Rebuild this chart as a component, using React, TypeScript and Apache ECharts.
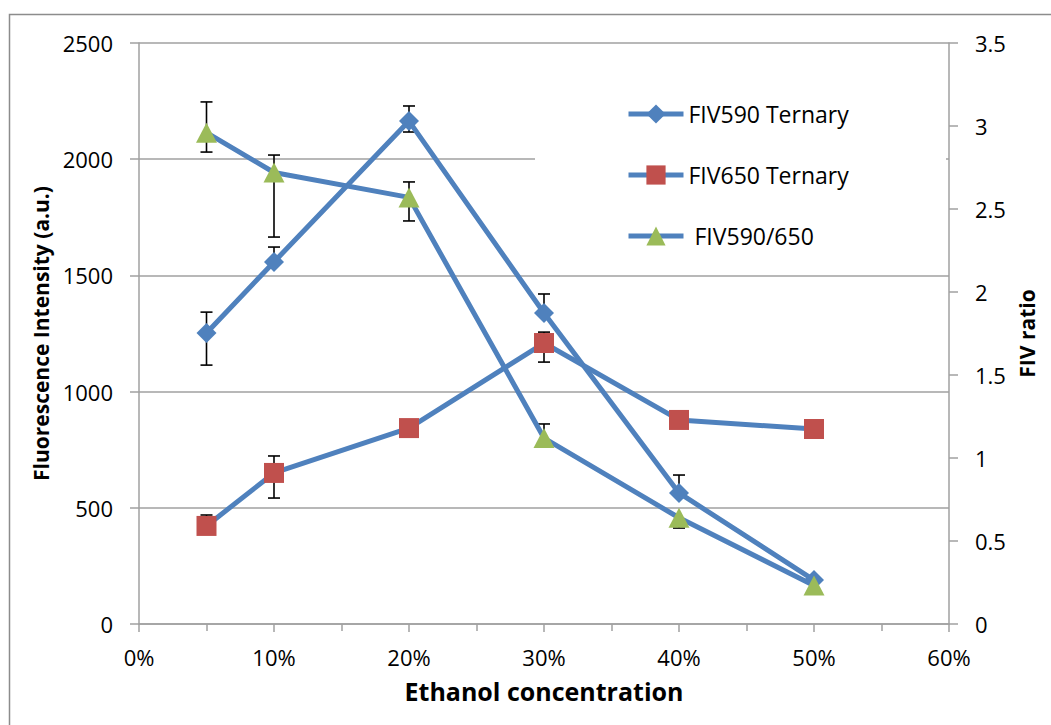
import React, { useEffect, useRef } from "react";
import * as echarts from "echarts";

const xValues = [0.05, 0.1, 0.2, 0.3, 0.4, 0.5];

const fiv590 = [1252, 1558, 2164, 1338, 564, 189];
const fiv590Low = [1114, 1558, 2117, 1338, 564, 189];
const fiv590High = [1342, 1622, 2229, 1420, 641, 189];

const fiv650 = [422, 650, 843, 1209, 878, 839];
const fiv650Low = [422, 542, 843, 1127, 878, 839];
const fiv650High = [469, 723, 843, 1256, 878, 839];

const ratio = [2.96, 2.72, 2.57, 1.12, 0.64, 0.232];
const ratioLow = [2.843, 2.331, 2.428, 1.12, 0.578, 0.232];
const ratioHigh = [3.145, 2.825, 2.663, 1.205, 0.64, 0.232];

const names = ["FIV590 Ternary", "FIV650 Ternary", " FIV590/650"];

const FONT = "Open Sans";
const GRID = "#a0a0a0";
const BLUE = "#4F81BD";

function errRows(v: number[], lo: number[], hi: number[]) {
  return xValues.map((x, i) => [x, v[i], lo[i], hi[i]]);
}

function errorSeries(v: number[], lo: number[], hi: number[], yAxisIndex: number) {
  return {
    type: "custom",
    yAxisIndex,
    z: 1,
    silent: true,
    encode: { x: 0, y: 1 },
    data: errRows(v, lo, hi),
    renderItem: (params: any, api: any) => {
      const x = api.value(0);
      const val = api.value(1);
      const l = api.value(2);
      const h = api.value(3);
      const pl = api.coord([x, l]);
      const ph = api.coord([x, h]);
      const st = { stroke: "#000", lineWidth: 1.6 };
      const children: any[] = [];
      if (h === l) return { type: "group", children };
      children.push({ type: "line", shape: { x1: pl[0], y1: pl[1], x2: ph[0], y2: ph[1] }, style: st });
      const cw = 6;
      if (l < val) children.push({ type: "line", shape: { x1: pl[0] - cw, y1: pl[1], x2: pl[0] + cw, y2: pl[1] }, style: st });
      if (h > val) children.push({ type: "line", shape: { x1: ph[0] - cw, y1: ph[1], x2: ph[0] + cw, y2: ph[1] }, style: st });
      return { type: "group", children };
    },
  };
}

export default function App() {
  const ref = useRef<HTMLDivElement>(null);
  useEffect(() => {
    document.body.style.margin = "0";
    const chart = echarts.init(ref.current!, null, { renderer: "svg" });
    const axisLine = { show: true, lineStyle: { color: GRID, width: 1.5 } };
    const label = { fontFamily: FONT, fontSize: 22, color: "#000" };
    const nameStyle = { fontFamily: FONT, fontSize: 21, fontWeight: "bold", color: "#000" };
    chart.setOption({
      animation: false,
      textStyle: { fontFamily: FONT },
      grid: { left: 139, right: 102, top: 43, bottom: 101, containLabel: false },
      graphic: [
        {
          type: "rect",
          z: -10,
          silent: true,
          shape: { x: 9.5, y: 14.5, width: 1200, height: 900 },
          style: { fill: "#fff", stroke: "#8c8c8c", lineWidth: 1.5 },
        },
        {
          type: "rect",
          z: 3,
          silent: true,
          shape: { x: 535, y: 52, width: 411, height: 216 },
          style: { fill: "#fff" },
        },
      ],
      legend: {
        orient: "vertical",
        left: 621,
        top: 97,
        itemWidth: 55,
        itemHeight: 24,
        itemGap: 37,
        z: 10,
        data: names,
        lineStyle: { width: 5 },
        textStyle: { fontFamily: FONT, fontSize: 23, color: "#000", lineHeight: 24 },
      },
      xAxis: {
        type: "value",
        min: 0,
        max: 0.6,
        interval: 0.1,
        axisLine,
        axisTick: { show: true, length: 8, lineStyle: { color: GRID, width: 1.5 } },
        minorTick: { show: true, splitNumber: 2, length: 7, lineStyle: { color: GRID, width: 1.5 } },
        splitLine: { show: false },
        axisLabel: { ...label, margin: 22, formatter: (v: number) => Math.round(v * 100) + "%" },
        name: "Ethanol concentration",
        nameLocation: "middle",
        nameGap: 54,
        nameTextStyle: { ...nameStyle, fontSize: 25 },
      },
      yAxis: [
        {
          type: "value",
          min: 0,
          max: 2500,
          interval: 500,
          axisLine,
          axisTick: { show: true, length: 9, lineStyle: { color: GRID, width: 1.5 } },
          splitLine: { show: true, lineStyle: { color: GRID, width: 1.5 } },
          axisLabel: { ...label, margin: 26, formatter: (v: number) => String(v) },
          name: "Fluorescence Intensity (a.u.)",
          nameLocation: "middle",
          nameRotate: 90,
          nameGap: 88,
          nameTextStyle: nameStyle,
        },
        {
          type: "value",
          min: 0,
          max: 3.5,
          interval: 0.5,
          position: "right",
          axisLine,
          axisTick: { show: true, length: 9, lineStyle: { color: GRID, width: 1.5 } },
          splitLine: { show: false },
          axisLabel: { ...label, margin: 26, formatter: (v: number) => String(v) },
          name: "FIV ratio",
          nameLocation: "middle",
          nameRotate: 90,
          nameGap: 52,
          nameTextStyle: nameStyle,
        },
      ],
      series: [
        errorSeries(fiv590, fiv590Low, fiv590High, 0),
        errorSeries(fiv650, fiv650Low, fiv650High, 0),
        errorSeries(ratio, ratioLow, ratioHigh, 1),
        {
          name: names[0],
          type: "line",
          yAxisIndex: 0,
          z: 2,
          data: xValues.map((x, i) => [x, fiv590[i]]),
          symbol: "diamond",
          symbolSize: [20, 20],
          lineStyle: { color: BLUE, width: 5 },
          itemStyle: { color: BLUE },
        },
        {
          name: names[1],
          type: "line",
          yAxisIndex: 0,
          z: 2,
          data: xValues.map((x, i) => [x, fiv650[i]]),
          symbol: "rect",
          symbolSize: [20, 20],
          lineStyle: { color: BLUE, width: 5 },
          itemStyle: { color: "#C0504D" },
        },
        {
          name: names[2],
          type: "line",
          yAxisIndex: 1,
          z: 2,
          data: xValues.map((x, i) => [x, ratio[i]]),
          symbol: "triangle",
          symbolSize: [21, 20],
          lineStyle: { color: BLUE, width: 5 },
          itemStyle: { color: "#9BBB59" },
        },
      ],
    });
    return () => chart.dispose();
  }, []);
  return <div ref={ref} style={{ width: 1051, height: 725 }} />;
}
